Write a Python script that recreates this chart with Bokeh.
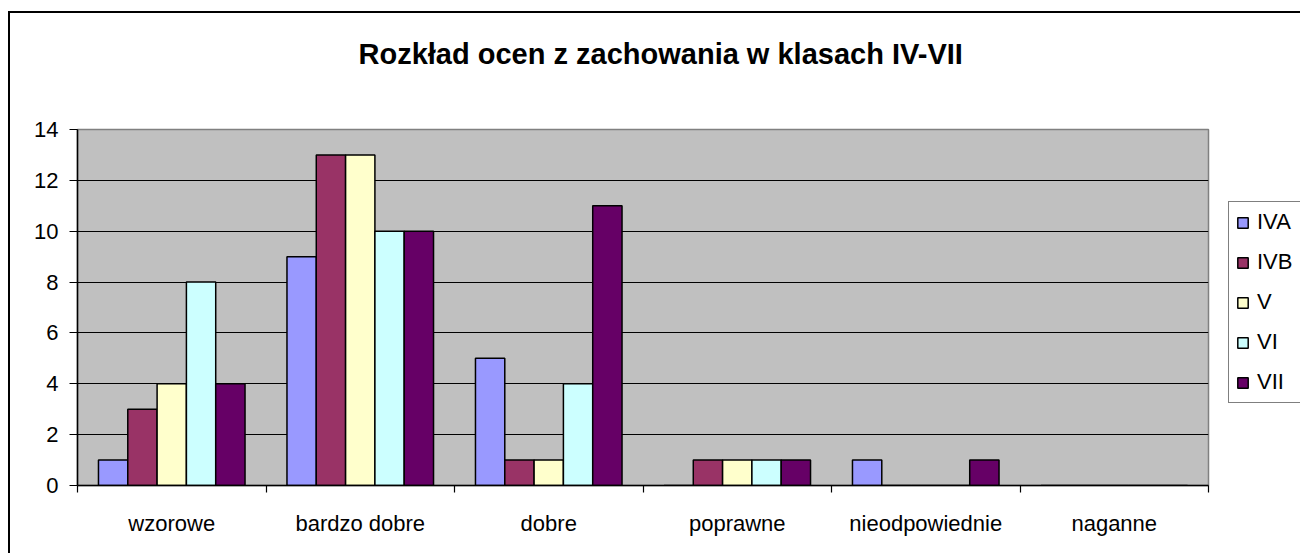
from bokeh.plotting import figure
from bokeh.models import Range1d, FixedTicker, ColumnDataSource, Title
from bokeh.embed import file_html
from bokeh.resources import INLINE

categories = ["wzorowe", "bardzo dobre", "dobre", "poprawne", "nieodpowiednie", "naganne"]
series_names = ["IVA", "IVB", "V", "VI", "VII"]
IVA = [1, 9, 5, 0, 1, 0]
IVB = [3, 13, 1, 1, 0, 0]
V = [4, 13, 1, 1, 0, 0]
VI = [8, 10, 4, 1, 0, 0]
VII = [4, 10, 11, 1, 1, 0]
series_values = [IVA, IVB, V, VI, VII]
colors = ["#9999FF", "#993366", "#FFFFCC", "#CCFFFF", "#660066"]
y_ticks = [0, 2, 4, 6, 8, 10, 12, 14]

FONT = "Liberation Sans"

p = figure(width=1290, height=540, frame_width=1131, frame_height=356,
           output_backend="svg", toolbar_location=None,
           x_range=Range1d(0, len(categories)), y_range=Range1d(0, 14),
           min_border_left=67, min_border_right=92, min_border_top=116, min_border_bottom=68)
p.background_fill_color = "#C0C0C0"
p.border_fill_color = "white"
p.outline_line_color = "#808080"
p.outline_line_width = 1.5
p.styles = {"border-left": "2px solid black", "border-top": "2px solid black",
            "margin-top": "11px", "margin-left": "8px"}

# spacer between the frame and the title (closest to the frame)
spacer = Title(text=" ", text_font_size="1px", standoff=34)
p.add_layout(spacer, "above")

# title
p.title.text = "Rozkład ocen z zachowania w klasach IV-VII"
p.title.align = "left"
p.title.offset = 281
p.title.text_font = FONT
p.title.text_font_size = "29px"
p.title.text_font_style = "bold"
p.title.text_color = "black"
p.title.standoff = 45

bw = 0.1555
n = len(series_names)
for k, (name, vals, col) in enumerate(zip(series_names, series_values, colors)):
    xs = [i + 0.5 + (k - (n - 1) / 2) * bw for i in range(len(categories))]
    src = ColumnDataSource(dict(x=xs, top=vals))
    p.vbar(x="x", top="top", bottom=0, width=bw, source=src, fill_color=col,
           line_color="black", line_width=1.5, legend_label=name)

# grid
p.xgrid.visible = False
p.ygrid.ticker = FixedTicker(ticks=y_ticks[1:-1])
p.ygrid.grid_line_color = "black"
p.ygrid.grid_line_width = 1.2

# y axis
p.yaxis.ticker = FixedTicker(ticks=y_ticks)
p.yaxis.minor_tick_line_color = None
p.yaxis.major_tick_out = 8
p.yaxis.major_tick_in = 0
p.yaxis.major_tick_line_color = "black"
p.yaxis.major_tick_line_width = 1.2
p.yaxis.axis_line_color = "black"
p.yaxis.axis_line_width = 1.5
p.yaxis.major_label_standoff = 11
p.yaxis.major_label_text_font = FONT
p.yaxis.major_label_text_font_size = "22px"
p.yaxis.major_label_text_color = "black"

# x axis: labels at category centers, tick marks at boundaries
p.xaxis.ticker = FixedTicker(ticks=[i + 0.5 for i in range(len(categories))],
                             minor_ticks=list(range(len(categories) + 1)))
p.xaxis.major_label_overrides = {i + 0.5: c for i, c in enumerate(categories)}
p.xaxis.major_tick_line_color = None
p.xaxis.major_tick_out = 0
p.xaxis.major_tick_in = 0
p.xaxis.minor_tick_line_color = "black"
p.xaxis.minor_tick_line_width = 1.2
p.xaxis.minor_tick_out = 7
p.xaxis.minor_tick_in = 0
p.xaxis.axis_line_color = "black"
p.xaxis.axis_line_width = 1.5
p.xaxis.major_label_standoff = 18
p.xaxis.major_label_text_font = FONT
p.xaxis.major_label_text_font_size = "22px"
p.xaxis.major_label_text_color = "black"

# legend, moved to the right side panel
lg = p.legend[0]
p.center.remove(lg)
p.add_layout(lg, "right")
lg.location = (20, 82)
lg.border_line_color = "black"
lg.border_line_width = 1.2
lg.background_fill_color = "white"
lg.background_fill_alpha = 1
lg.padding = 7
lg.spacing = 14
lg.glyph_width = 13
lg.glyph_height = 13
lg.label_standoff = 8
lg.label_height = 24
lg.label_width = 40
lg.label_text_font = FONT
lg.label_text_font_size = "22px"
lg.label_text_color = "black"
lg.margin = 0

open("out.html", "w").write(file_html(p, INLINE))
